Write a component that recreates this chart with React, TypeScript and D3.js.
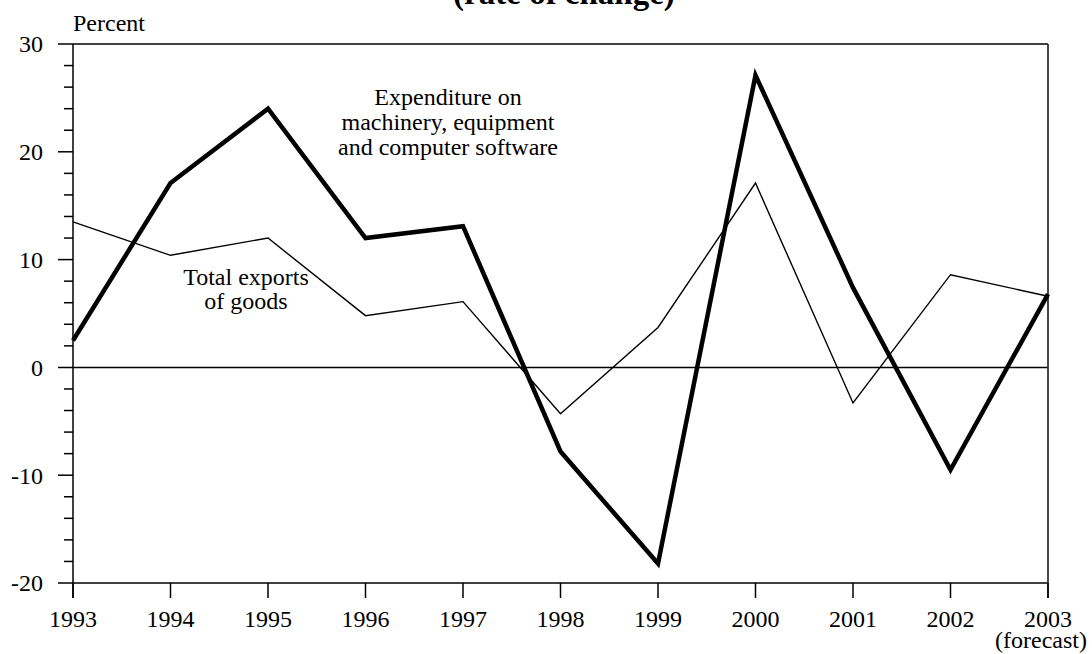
import React from "react";
import * as d3 from "d3";

const years = [1993, 1994, 1995, 1996, 1997, 1998, 1999, 2000, 2001, 2002, 2003];
const expenditure = [2.5, 17.1, 24.0, 12.0, 13.1, -7.8, -18.2, 27.1, 7.4, -9.5, 6.8];
const exportsGoods = [13.5, 10.4, 12.0, 4.8, 6.1, -4.3, 3.7, 17.1, -3.3, 8.6, 6.6];
const yMajorTicks = [-20, -10, 0, 10, 20, 30];
const yMinorTicks = [-18, -16, -14, -12, -8, -6, -4, -2, 2, 4, 6, 8, 12, 14, 16, 18, 22, 24, 26, 28];
const expLabel = ["Expenditure on", "machinery, equipment", "and computer software"];
const expoLabel = ["Total exports", "of goods"];

const W = 1092;
const H = 654;
const left = 73;
const right = 1048;
const top = 44;
const bottom = 583;
const FONT = "'Liberation Serif', 'Times New Roman', serif";

export default function App() {
  const x = d3.scaleLinear().domain([1993, 2003]).range([left, right]);
  const y = d3.scaleLinear().domain([-20, 30]).range([bottom, top]);
  const line = d3
    .line<number>()
    .x((_, i) => x(years[i]))
    .y((d) => y(d));

  return (
    <svg
      width={W}
      height={H}
      style={{ position: "absolute", left: 0, top: 0, background: "#fff" }}
      fontFamily={FONT}
    >
      <rect x={0} y={0} width={W} height={H} fill="#fff" />
      <text x={564} y={4} textAnchor="middle" fontWeight="bold" fontSize={33}>
        (rate of change)
      </text>
      <text x={left} y={31} fontSize={24}>
        Percent
      </text>

      {yMinorTicks.map((t) => (
        <line key={"mi" + t} x1={left - 9} x2={left} y1={y(t)} y2={y(t)} stroke="#000" strokeWidth={1.5} />
      ))}
      {yMajorTicks.map((t) => (
        <line
          key={"ma" + t}
          x1={left - 15}
          x2={t === 0 || t === 30 || t === -20 ? right : left}
          y1={y(t)}
          y2={y(t)}
          stroke="#000"
          strokeWidth={1.5}
        />
      ))}
      {yMajorTicks.map((t) => (
        <text key={"yl" + t} x={43} y={y(t)} dy="0.35em" textAnchor="end" fontSize={24}>
          {t}
        </text>
      ))}

      <line x1={left} x2={left} y1={top} y2={bottom + 15} stroke="#000" strokeWidth={1.5} />
      <line x1={right} x2={right} y1={top} y2={bottom + 15} stroke="#333" strokeWidth={1.8} />

      {years.map((yr) => (
        <g key={"x" + yr}>
          <line x1={x(yr)} x2={x(yr)} y1={bottom} y2={bottom + 15} stroke="#000" strokeWidth={1.5} />
          <text x={x(yr)} y={627} textAnchor="middle" fontSize={24}>
            {yr}
          </text>
        </g>
      ))}
      <text x={1041} y={648} textAnchor="middle" fontSize={24}>
        (forecast)
      </text>

      <path d={line(exportsGoods) || ""} fill="none" stroke="#000" strokeWidth={1.4} strokeLinejoin="miter" />
      <path d={line(expenditure) || ""} fill="none" stroke="#000" strokeWidth={4.5} strokeLinejoin="miter" />

      {expLabel.map((s, i) => (
        <text key={"el" + i} x={448} y={105 + i * 25} textAnchor="middle" fontSize={24}>
          {s}
        </text>
      ))}
      {expoLabel.map((s, i) => (
        <text key={"xl" + i} x={246} y={285 + i * 24} textAnchor="middle" fontSize={24}>
          {s}
        </text>
      ))}
    </svg>
  );
}
